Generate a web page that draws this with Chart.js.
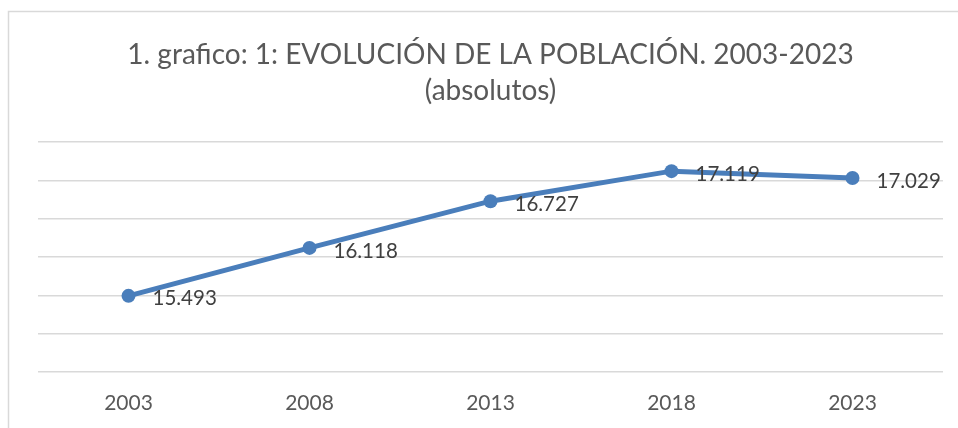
<!DOCTYPE html>
<html>
<head>
<meta charset="utf-8">
<script src="https://cdn.jsdelivr.net/npm/chart.js@4.4.1/dist/chart.umd.min.js"></script>
<style>
  html, body { margin: 0; padding: 0; background: #fff; }
  #wrap { width: 958px; height: 428px; }
</style>
</head>
<body>
<div id="wrap"><canvas id="chart" width="958" height="428"></canvas></div>
<script>
// data
const years = ['2003', '2008', '2013', '2018', '2023'];
const population = [15493, 16118, 16727, 17119, 17029];
const titleLines = ['1. grafico: 1: EVOLUCIÓN DE LA POBLACIÓN. 2003-2023', '(absolutos)'];
const yMin = 14500;
const yMax = 17500;
const yStep = 500;

const FONT = 'Lato, "Open Sans", sans-serif';

function fmt(n) {
    // Spanish style thousands separator
    return String(n).replace(/\B(?=(\d{3})+(?!\d))/g, '.');
}

// light grey frame round the whole chart
const frame = {
    id: 'frame',
    beforeDraw(chart) {
        const ctx = chart.ctx;
        ctx.save();
        ctx.strokeStyle = '#d9d9d9';
        ctx.lineWidth = 1.5;
        ctx.strokeRect(8.5, 11.5, 1000, 500);
        ctx.restore();
    }
};

// value labels to the right of each point
const valueLabels = {
    id: 'valueLabels',
    afterDatasetsDraw(chart) {
        const ctx = chart.ctx;
        const meta = chart.getDatasetMeta(0);
        ctx.save();
        ctx.font = '20.5px ' + FONT;
        ctx.fillStyle = '#404040';
        ctx.textAlign = 'left';
        ctx.textBaseline = 'middle';
        meta.data.forEach((pt, i) => {
            ctx.fillText(fmt(chart.data.datasets[0].data[i]), pt.x + 24, pt.y + 3);
        });
        ctx.restore();
    }
};

new Chart(document.getElementById('chart'), {
    type: 'line',
    data: {
        labels: years,
        datasets: [{
            data: population,
            borderColor: '#4a7ebb',
            backgroundColor: '#4a7ebb',
            borderWidth: 5,
            pointRadius: 7,
            pointHoverRadius: 7,
            pointBackgroundColor: '#4a7ebb',
            pointBorderWidth: 0,
            tension: 0,
            fill: false
        }]
    },
    options: {
        responsive: false,
        animation: false,
        layout: { padding: { left: 38, right: 15, top: 0, bottom: 0 } },
        plugins: {
            legend: { display: false },
            tooltip: { enabled: false },
            title: {
                display: true,
                text: titleLines,
                color: '#595959',
                font: { family: FONT, size: 28, weight: 'normal', lineHeight: 1.32 },
                padding: { top: 36, bottom: 32 }
            }
        },
        scales: {
            x: {
                offset: true,
                grid: { display: false, drawTicks: false },
                border: { display: false },
                ticks: { color: '#595959', font: { family: FONT, size: 21 }, padding: 19 },
                afterFit(s) { s.height = 56; }
            },
            y: {
                min: yMin,
                max: yMax,
                ticks: { stepSize: yStep, display: false },
                grid: { color: '#d9d9d9', lineWidth: 1.5, drawTicks: false },
                border: { display: false },
                afterFit(s) { s.width = 0; }
            }
        }
    },
    plugins: [frame, valueLabels]
});
</script>
</body>
</html>
